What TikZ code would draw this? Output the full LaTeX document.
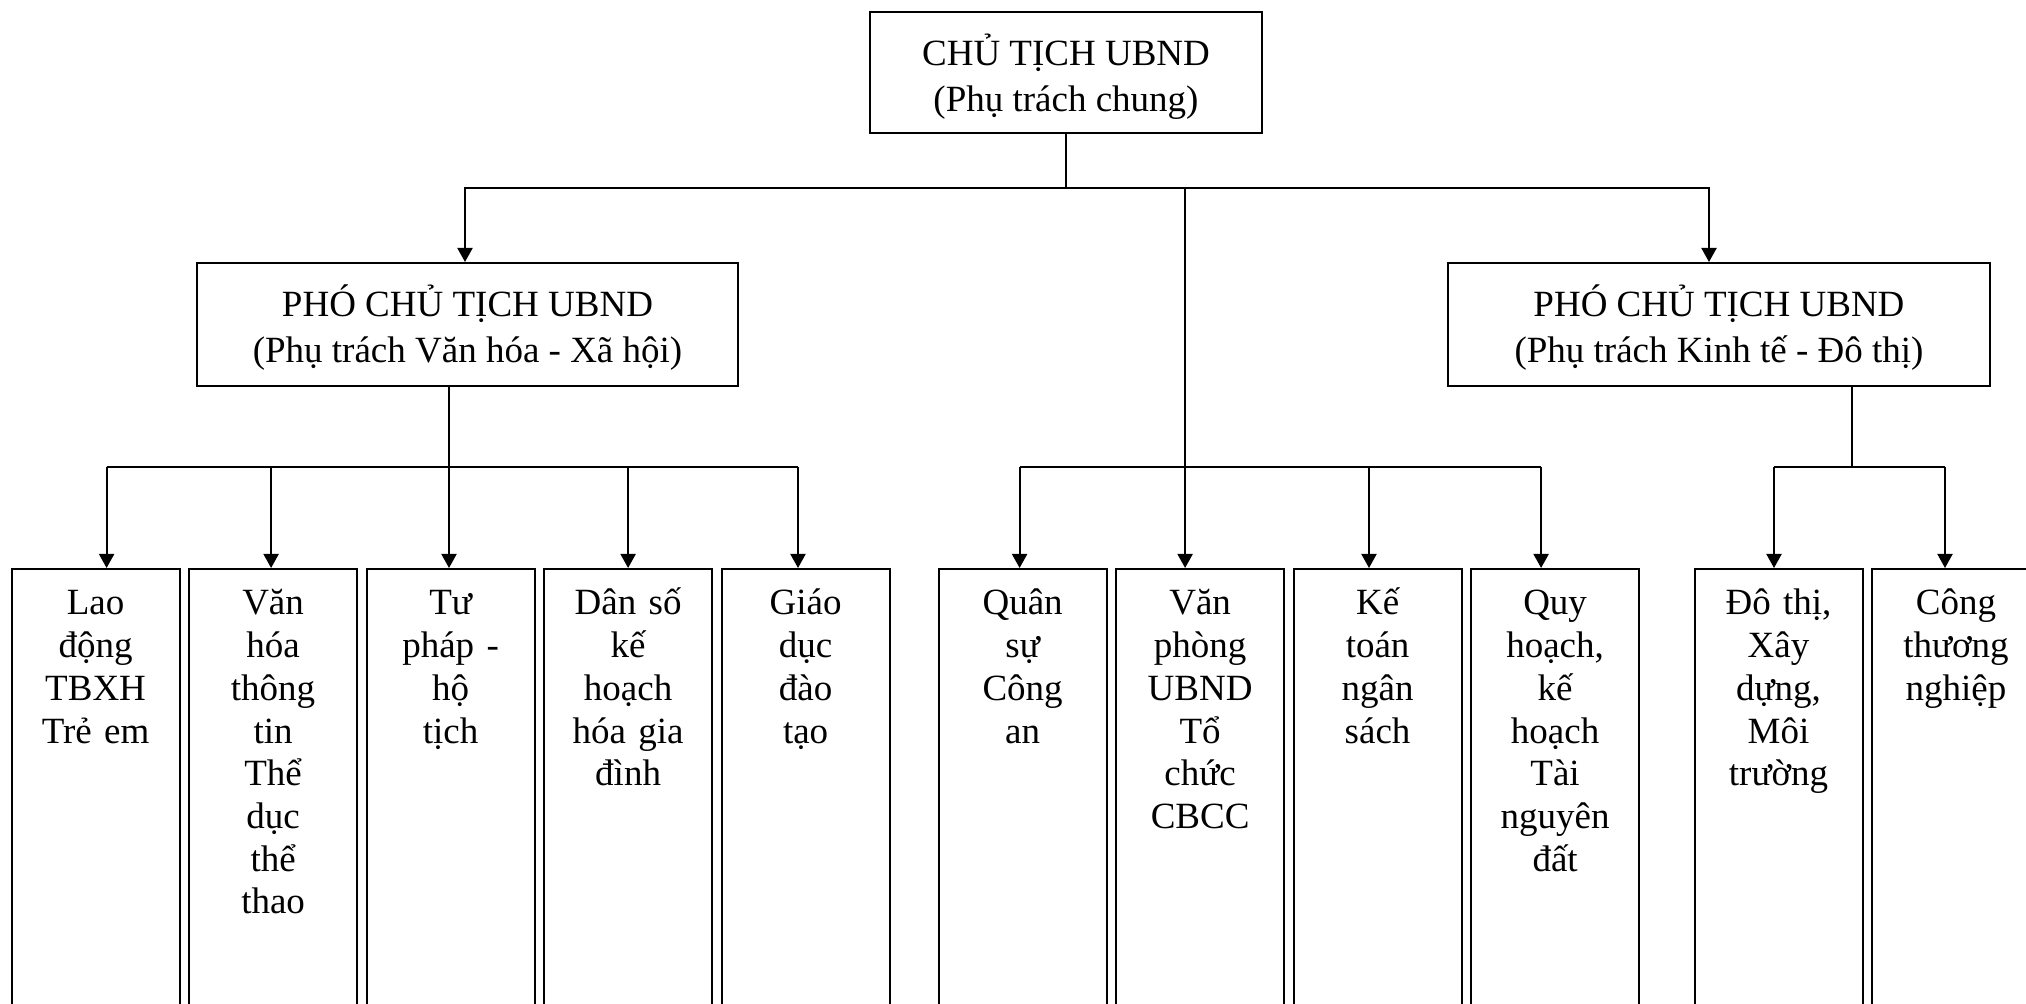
\documentclass[tikz,border=0pt]{standalone}
\usepackage{fontspec}
\setmainfont{Liberation Serif}
\usepackage{tikz}
\usetikzlibrary{arrows.meta,positioning}

\begin{document}
\begin{tikzpicture}[x=0.5pt,y=-0.5pt,>={Triangle[length=7pt,width=7.5pt]},
 line width=1pt,node distance=88.75pt,
 every node/.style={font=\fontsize{18.5}{21.35}\selectfont},
 boss/.style={draw,align=center,minimum width=196pt,minimum height=60.5pt,inner sep=0pt,
  font=\fontsize{18.5}{22.6}\selectfont,text height=42.2pt,text depth=3.5pt},
 unit/.style={draw,anchor=north,text width=80pt,align=center,inner xsep=2pt,inner ysep=0pt,
  text height=23pt,text depth=230pt}]
 \useasboundingbox (0,0) rectangle (2026,1004);

 \node[boss] (cht) at (1066,72.5) {CHỦ TỊCH UBND\\(Phụ trách chung)};
 \node[boss,minimum width=270.5pt,minimum height=61.5pt,text height=41.2pt] (pvh) at (467.5,324.5)
  {PHÓ CHỦ TỊCH UBND\\(Phụ trách Văn hóa - Xã hội)};
 \node[boss,minimum width=271pt,minimum height=61.5pt,text height=41.2pt] (pkt) at (1719,324.5)
  {PHÓ CHỦ TỊCH UBND\\(Phụ trách Kinh tế - Đô thị)};

 % cac bo phan
 \node[unit] (ld) at (95.6,568) {Lao\\động\\TBXH\\Trẻ em};
 \node[unit,right of=ld] (vh) {Văn\\hóa\\thông\\tin\\Thể\\dục\\thể\\thao};
 \node[unit,right of=vh] (tp) {Tư\\pháp -\\hộ\\tịch};
 \node[unit,right of=tp] (ds) {Dân số\\kế\\hoạch\\hóa gia\\đình};
 \node[unit,right of=ds] (gd) {Giáo\\dục\\đào\\tạo};

 \node[unit] (qs) at (1022.6,568) {Quân\\sự\\Công\\an};
 \node[unit,right of=qs] (vp) {Văn\\phòng\\UBND\\Tổ\\chức\\CBCC};
 \node[unit,right of=vp] (kt) {Kế\\toán\\ngân\\sách};
 \node[unit,right of=kt] (qh) {Quy\\hoạch,\\kế\\hoạch\\Tài\\nguyên\\đất};

 \node[unit] (dt) at (1778.5,568) {Đô thị,\\Xây\\dựng,\\Môi\\trường};
 \node[unit,right of=dt] (ctn) {Công\\thương\\nghiệp};

 \draw (cht.south) -- ++(0,-27pt) coordinate (j0);
 \draw[->] (j0) -| ([xshift=-1.25pt]pvh.north);
 \draw[->] (j0) -| ([xshift=-5pt]pkt.north);

 \foreach \n/\s in {ld/5.5,vh/-1,tp/-0.8,ds/0,gd/-3.8,qs/-1.5,vp/-7.5,kt/-4.3,qh/-7,dt/-2.25,ctn/-5.5}
  \draw[<-] ([xshift=\s pt]\n.north) -- ++(0,50.5pt) coordinate (d\n);

 \draw (j0 -| dvp) -- (dvp);
 \draw ([xshift=-9.25pt]pvh.south) -- ++(0,-40.5pt);
 \draw ([xshift=66.25pt]pkt.south) -- ++(0,-40.5pt);
 \draw (dld) -- (dgd);
 \draw (dqs) -- (dqh);
 \draw (ddt) -- (dctn);
\end{tikzpicture}
\end{document}
